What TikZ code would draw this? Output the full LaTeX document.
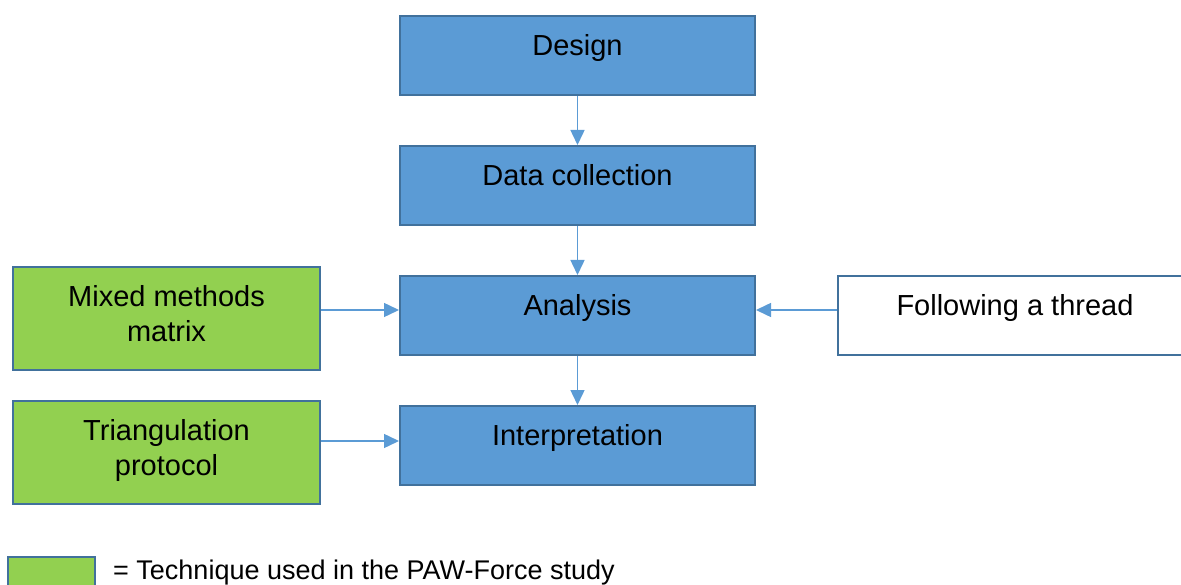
\documentclass[tikz,border=0pt]{standalone}
\usepackage{fontspec}
\setmainfont{Liberation Sans}
\usetikzlibrary{arrows.meta}
\definecolor{boxblue}{HTML}{5B9BD5}
\definecolor{edgeblue}{HTML}{41719C}
\definecolor{techgreen}{HTML}{92D050}
\tikzset{
  x=1pt, y=-1pt,
  base/.style={draw=edgeblue, line width=2pt, minimum width=355pt, minimum height=79pt,
    inner sep=0pt, font=\fontsize{29}{35}\selectfont, align=center},
  stage/.style={base, fill=boxblue, text height=20pt, text depth=20pt},
  technique/.style={base, fill=techgreen, minimum width=307pt, minimum height=103pt,
    text height=56pt, text depth=9.5pt},
  other/.style={base, fill=white, text height=20pt, text depth=20pt},
  flow/.style={draw=boxblue, line width=1.5pt, -{Triangle[length=15pt,width=14pt]}}
}
\begin{document}
\begin{tikzpicture}
\useasboundingbox (0,0) rectangle (1181,585);
% main stages
\node[stage] (design) at (577.5,56) {Design};
\node[stage] (collect) at (577.5,185.5) {Data collection};
\node[stage] (analysis) at (577.5,315.5) {Analysis};
\node[stage] (interp) at (577.5,445.5) {Interpretation};
% supporting techniques
\node[technique] (matrix) at (166.5,318.5) {Mixed methods\\matrix};
\node[technique] (triang) at (166.5,452) {Triangulation\\protocol};
\node[other] (thread) at (1015,315.5) {Following a thread};
% connectors
\draw[flow] (design) -- (collect);
\draw[flow] (collect) -- (analysis);
\draw[flow] (analysis) -- (interp);
\draw[flow] (matrix.east |- 0,310) -- (analysis.west |- 0,310);
\draw[flow] (thread.west |- 0,310) -- (analysis.east |- 0,310);
\draw[flow] (triang.east |- 0,441) -- (interp.west |- 0,441);
% legend
\node[draw=edgeblue, line width=2pt, fill=techgreen, minimum width=87pt, minimum height=34pt, inner sep=0pt] (key) at (51.5,574) {};
\node[anchor=west, inner sep=0pt, font=\fontsize{27}{32}\selectfont] (keytext) at (113,573) {= Technique used in the PAW-Force study};
\end{tikzpicture}
\end{document}
